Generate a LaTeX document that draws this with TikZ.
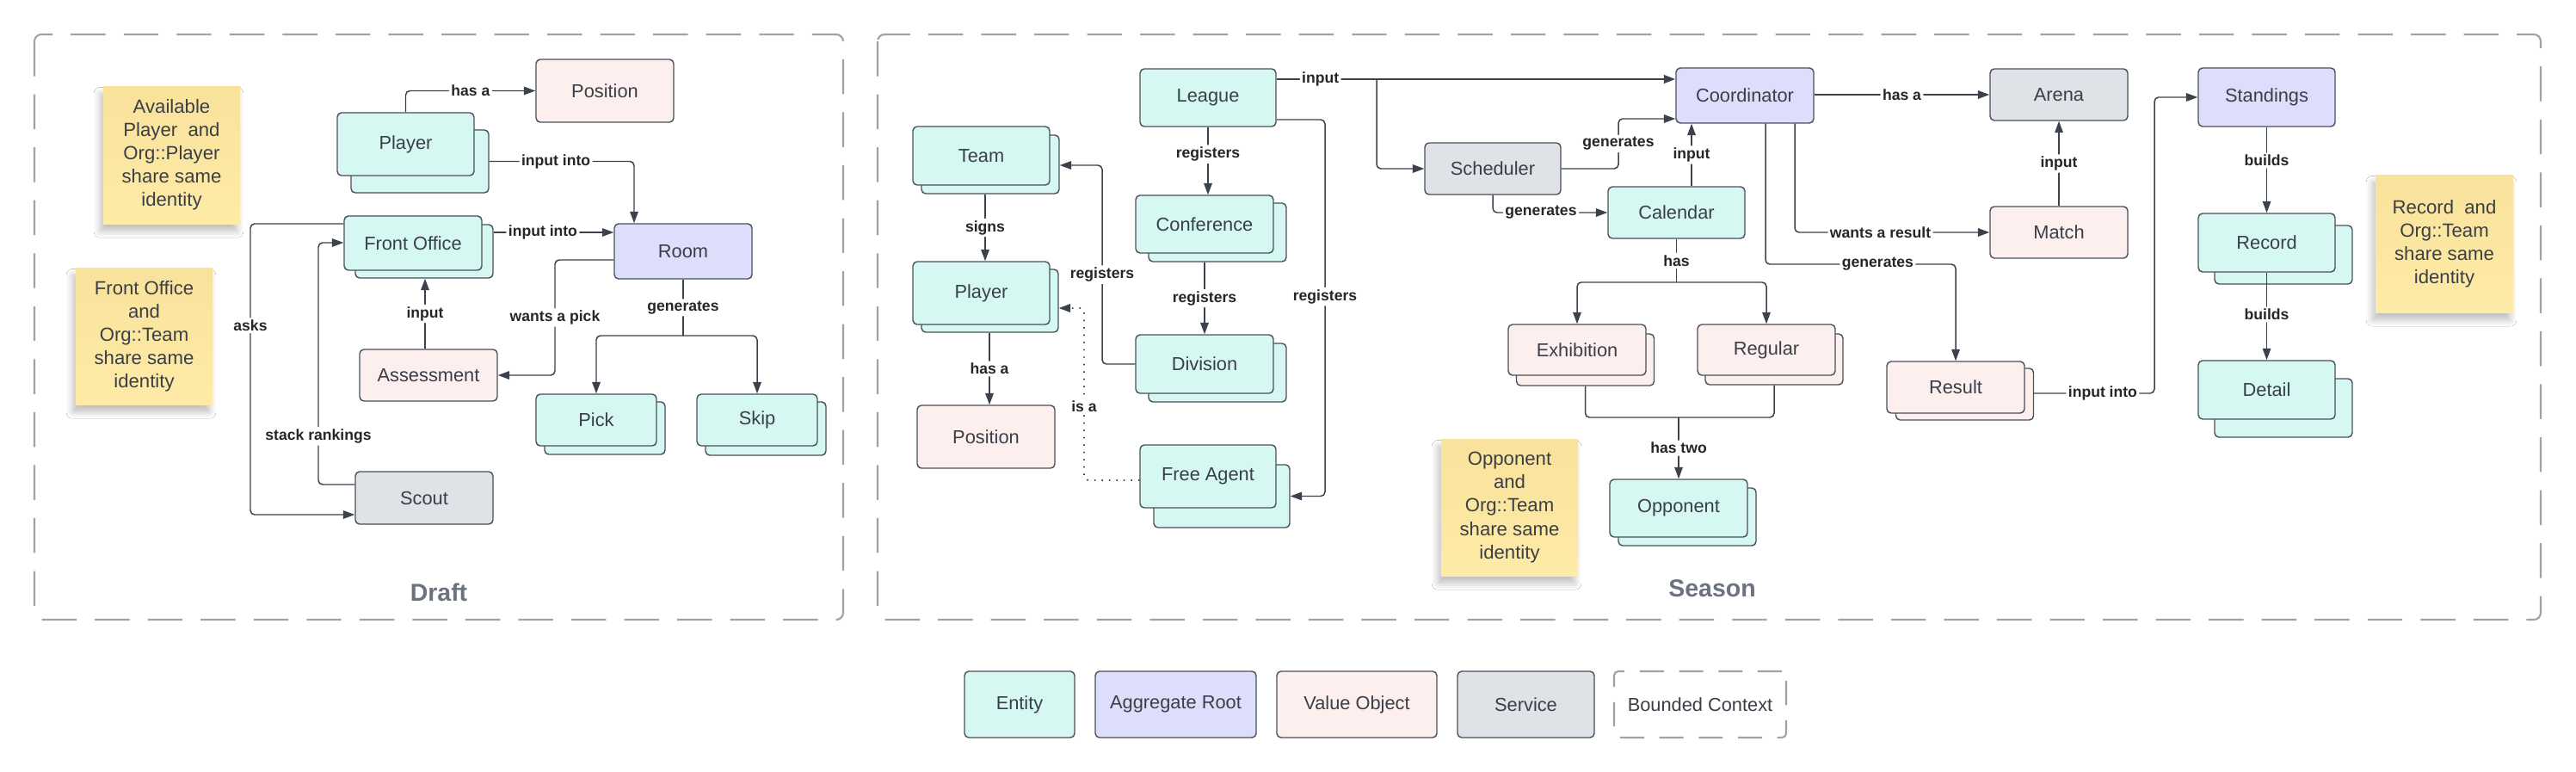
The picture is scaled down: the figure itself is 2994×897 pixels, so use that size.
\documentclass[tikz,border=0pt]{standalone}
\usepackage{fontspec}
\setmainfont{Liberation Sans}
\usetikzlibrary{arrows.meta,shadows.blur,calc}
\definecolor{entc}{HTML}{D6F8F2}
\definecolor{aggc}{HTML}{DDDEFB}
\definecolor{valc}{HTML}{FDEFEE}
\definecolor{srvc}{HTML}{DFE2E6}
\definecolor{stktop}{HTML}{F9E29B}
\definecolor{stkbot}{HTML}{FEEBA7}
\definecolor{framec}{HTML}{9DA3AD}
\definecolor{linec}{HTML}{3C424B}
\definecolor{bordc}{HTML}{4A5059}
\definecolor{txtc}{HTML}{3A3F47}
\definecolor{titc}{HTML}{6B7280}
\tikzset{
  base/.style={rectangle, rounded corners=1.4pt, draw=bordc, line width=0.4pt, inner sep=0pt,
    font=\fontsize{6.2}{7.4}\selectfont, text=txtc, align=center},
  ent/.style={base, fill=entc},
  agg/.style={base, fill=aggc},
  val/.style={base, fill=valc},
  srv/.style={base, fill=srvc},
  sz/.style 2 args={minimum width=#1*0.01cm, minimum height=#2*0.01cm},
  sticky/.style={rectangle, top color=stktop, bottom color=stkbot, inner sep=0pt, align=center, text=txtc,
    font=\fontsize{6.3}{7.7}\selectfont,
    blur shadow={shadow xshift=-1pt, shadow yshift=-2.5pt, shadow opacity=25, shadow blur steps=8}},
  frame/.style={draw=framec, line width=0.6pt, dash pattern=on 11.5pt off 6pt, rounded corners=2.3pt},
  title/.style={font=\fontsize{8.1}{9}\selectfont\bfseries, text=titc},
  conn/.style={draw=linec, line width=0.42pt, rounded corners=1.4pt},
  arr/.style={conn, -{Triangle[length=3.8pt,width=2.7pt]}},
  lbl/.style={fill=white, inner sep=0.7pt, font=\fontsize{5}{6}\selectfont\bfseries, text=black!85},
}
\begin{document}
\begin{tikzpicture}[x=0.01cm, y=-0.01cm]
\useasboundingbox (0,0) rectangle (2994,897);
\fill[white] (0,0) rectangle (2994,897);

% frames
\draw[frame] (40,40) rectangle (980,720);
\draw[frame] (1020,40) rectangle (2953,720);
\node[title] (tDraft) at (510,688) {Draft};
\node[title] (tSeason) at (1990,684) {Season};

% stickies
\node[sticky, sz={159}{160}] (s1) at (199.5,180) {Available\\Player\ \ and\\Org::Player\\share same\\identity};
\node[sticky, sz={159}{159}] (s2) at (167.5,390.5) {Front Office\\and\\Org::Team\\share same\\identity};
\node[sticky, sz={159}{159}] (s3) at (1754.5,589.5) {Opponent\\and\\Org::Team\\share same\\identity};
\node[sticky, sz={160}{160}] (s4) at (2841,283) {Record\ \ and\\Org::Team\\share same\\identity};

% ---------- Draft nodes
\node[val, sz={160}{73}] (dPos) at (703,105.5) {Position};
\node[ent, sz={160}{73}] (dPlayerB) at (488,187.5) {};
\node[ent, sz={159}{73}] (dPlayer) at (471.5,167.5) {Player};
\node[ent, sz={160}{62}] (dFOB) at (493,292) {};
\node[ent, sz={160}{63}] (dFO) at (480,282.5) {Front Office};
\node[agg, sz={160}{64}] (dRoom) at (794,292) {Room};
\node[val, sz={160}{60}] (dAssess) at (498,436) {Assessment};
\node[srv, sz={160}{61}] (dScout) at (493,578.5) {Scout};
\node[ent, sz={140}{61}] (dPickB) at (703,497.5) {};
\node[ent, sz={140}{60}] (dPick) at (693,488) {Pick};
\node[ent, sz={140}{62}] (dSkipB) at (890,498) {};
\node[ent, sz={140}{60}] (dSkip) at (880,488) {Skip};

% ---------- Season nodes
\node[ent, sz={158}{67}] (sLeague) at (1404,113.5) {League};
\node[ent, sz={160}{68}] (sTeamB) at (1151,191) {};
\node[ent, sz={159}{68}] (sTeam) at (1140.5,181) {Team};
\node[ent, sz={160}{68}] (sConfB) at (1415,270) {};
\node[ent, sz={160}{67}] (sConf) at (1400,260.5) {Conference};
\node[ent, sz={159}{73}] (sPlayerB) at (1150.5,349.5) {};
\node[ent, sz={159}{73}] (sPlayer) at (1140.5,340.5) {Player};
\node[ent, sz={160}{68}] (sDivB) at (1415,433) {};
\node[ent, sz={160}{68}] (sDiv) at (1400,423) {Division};
\node[val, sz={160}{73}] (sPos) at (1146,507.5) {Position};
\node[ent, sz={158}{73}] (sFAB) at (1420,576.5) {};
\node[ent, sz={158}{73}] (sFA) at (1404,553.5) {Free Agent};
\node[srv, sz={158}{60}] (sSched) at (1735,196) {Scheduler};
\node[ent, sz={159}{60}] (sCal) at (1948.5,247) {Calendar};
\node[agg, sz={160}{64}] (sCoord) at (2028,111) {Coordinator};
\node[val, sz={160}{60}] (sExhB) at (1842.5,418) {};
\node[val, sz={160}{59}] (sExh) at (1833,406.5) {Exhibition};
\node[val, sz={160}{59}] (sRegB) at (2062,417.5) {};
\node[val, sz={160}{59}] (sReg) at (2053,406.5) {Regular};
\node[ent, sz={160}{67}] (sOppB) at (1961,600.5) {};
\node[ent, sz={160}{67}] (sOpp) at (1951,590.5) {Opponent};
\node[srv, sz={160}{60}] (sArena) at (2393,110) {Arena};
\node[val, sz={160}{60}] (sMatch) at (2393,270) {Match};
\node[agg, sz={159}{68}] (sStand) at (2634.5,113) {Standings};
\node[ent, sz={160}{68}] (sRecB) at (2654,296) {};
\node[ent, sz={159}{68}] (sRec) at (2634.5,282) {Record};
\node[ent, sz={160}{68}] (sDetB) at (2654,474) {};
\node[ent, sz={159}{68}] (sDet) at (2634.5,453) {Detail};
\node[val, sz={160}{60}] (sResB) at (2283.5,458) {};
\node[val, sz={160}{60}] (sRes) at (2273,450) {Result};

% ---------- legend
\node[ent, sz={128}{77}] (lEnt) at (1185,818.5) {Entity};
\node[agg, sz={187}{77}] (lAgg) at (1366.5,818.5) {Aggregate Root};
\node[val, sz={186}{77}] (lVal) at (1577,818.5) {Value Object};
\node[srv, sz={159}{77}] (lSrv) at (1773.5,818.5) {Service};
\node[base, draw=framec, line width=0.6pt, dash pattern=on 8pt off 5pt, sz={200}{77}] (lBC) at (1976,818.5) {Bounded Context};

% ---------- Draft connectors
\draw[arr] (dPlayer.north) |- node[lbl,pos=0.75]{has a} (dPos.west);
\draw[arr] (dPlayerB.east) -| node[lbl,pos=0.23]{input into} (737,0 |- dRoom.north);
\draw[arr] (dFOB.east |- 0,270) -- node[lbl,pos=0.41]{input into} (dRoom.west |- 0,270);
\draw[arr] (494,0 |- dAssess.north) -- node[lbl]{input} (494,0 |- dFOB.south);
\draw[arr] (dRoom.west |- 0,302) -- (645,302) -- node[lbl]{wants a pick} (645,436) -- (dAssess.east);
\coordinate (gRoom) at (794,390);
\draw[conn] (dRoom.south) -- node[lbl]{generates} (gRoom);
\draw[arr] (gRoom) -| (dPick.north);
\draw[arr] (gRoom) -| (dSkip.north);
\draw[arr] (dFO.west |- 0,260) -- (291,260) -- node[lbl,pos=0.35]{asks} (291,598) -- (dScout.west |- 0,598);
\draw[arr] (dScout.west |- 0,563) -- (370,563) -- node[lbl,pos=0.2]{stack rankings} (370,282) -- (dFO.west |- 0,282);

% ---------- Season connectors
\draw[arr, line width=0.7pt] (sLeague.east |- 0,92) -- node[lbl,pos=0.11]{input} (sCoord.west |- 0,92);
\draw[arr] (1600,92) |- (sSched.west);
\draw[arr] (sSched.east) -- (1881,196) -- node[lbl]{generates} (1881,138) -- (sCoord.west |- 0,138);
\draw[arr] (sSched.south) |- node[lbl,pos=0.71]{generates} (sCal.west);
\draw[arr] (1966,0 |- sCal.north) -- node[lbl]{input} (1966,0 |- sCoord.south);
\coordinate (gCal) at (1948.5,328);
\draw[conn] (sCal.south) -- node[lbl]{has} (gCal);
\draw[arr] (gCal) -| (sExh.north);
\draw[arr] (gCal) -| (sReg.north);
\coordinate (gOpp) at (1951,485);
\draw[conn] (sExhB.south) |- (gOpp);
\draw[conn] (sRegB.south) |- (gOpp);
\draw[arr] (gOpp) -- node[lbl]{has two} (sOpp.north);
\draw[arr] (1145,0 |- sTeamB.south) -- node[lbl]{signs} (1145,0 |- sPlayer.north);
\draw[arr] (1150,0 |- sPlayerB.south) -- node[lbl]{has a} (1150,0 |- sPos.north);
\draw[arr] (sLeague.south) -- node[lbl,pos=0.4]{registers} (sLeague.south |- sConf.north);
\draw[arr] (1400,0 |- sConfB.south) -- node[lbl]{registers} (sDiv.north);
\draw[arr] (sDiv.west) -- (1281,423) -- node[lbl,pos=0.45]{registers} (1281,192) -- (sTeamB.east |- 0,192);
\draw[arr] (sLeague.east |- 0,139) -- (1540,139) -- node[lbl,pos=0.47]{registers} (1540,576.5) -- (sFAB.east);
\draw[arr, dotted, line width=0.55pt] (sFA.west |- 0,558) -- (1260,558) -- node[lbl,pos=0.43]{is a} (1260,358) -- (sPlayerB.east |- 0,358);
\draw[arr] (sCoord.east |- 0,110) -- node[lbl,pos=0.5]{has a} (sArena.west);
\draw[arr] (sMatch.north) -- node[lbl]{input} (sArena.south);
\draw[arr] (2086,0 |- sCoord.south) |- node[lbl,pos=0.72]{wants a result} (sMatch.west);
\draw[arr] (2052,0 |- sCoord.south) -- (2052,307) -- node[lbl,pos=0.59]{generates} (2273,307) -- (sRes.north);
\draw[arr] (sResB.east |- 0,457) -- node[lbl,pos=0.57]{input into} (2504,457) -- (2504,113) -- (sStand.west);
\draw[arr] (sStand.south) -- node[lbl,pos=0.39]{builds} (sRec.north);
\draw[arr] (sRec.south) -- node[lbl,pos=0.48]{builds} (sDet.north);
\end{tikzpicture}
\end{document}
